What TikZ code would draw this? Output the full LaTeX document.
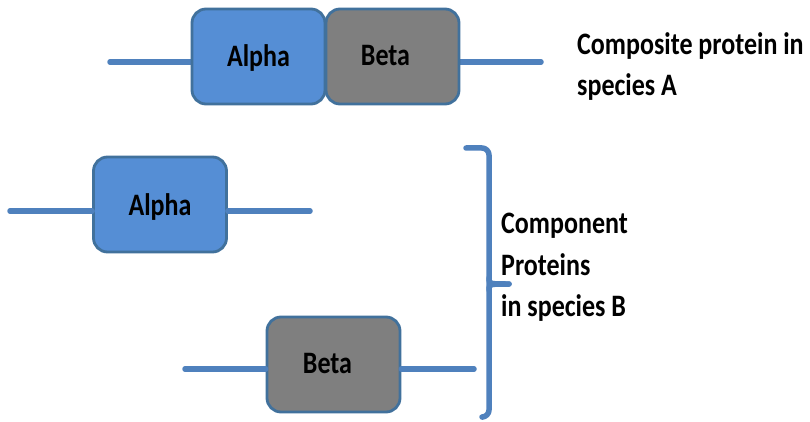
\documentclass[tikz,border=0pt]{standalone}
\usepackage{fontspec}
\setmainfont{Carlito}
\usepackage{graphicx}
\definecolor{boxblue}{HTML}{558ED5}
\definecolor{boxgray}{HTML}{7F7F7F}
\definecolor{edgeblue}{HTML}{41719C}
\definecolor{linkblue}{HTML}{4F81BD}
\newcommand{\tall}[1]{\scalebox{1}[1.2]{#1}}
\tikzset{
  protbox/.style={draw=edgeblue, line width=2.8pt, rounded corners=14pt,
    minimum width=133pt, minimum height=95pt, inner sep=0pt},
  alphabox/.style={protbox, fill=boxblue},
  betabox/.style={protbox, fill=boxgray},
  boxtext/.style={font=\fontsize{26}{26}\selectfont\bfseries, text=black, inner sep=0pt, anchor=base},
  caption/.style={font=\fontsize{26}{26}\selectfont\bfseries, text=black, inner sep=0pt, anchor=west, align=left},
  linker/.style={draw=linkblue, line width=5.5pt, line cap=round},
  bracket/.style={draw=linkblue, line width=5.5pt, line cap=round, line join=round}
}
\begin{document}
\begin{tikzpicture}[x=1pt, y=-1pt]
  \useasboundingbox[fill=white] (0,0) rectangle (810,422);

  % composite protein (species A)
  \coordinate (a0) at (110,62);
  \coordinate (a1) at (541,62);
  \draw[linker] (a0) -- (260,62);
  \draw[linker] (390,62) -- (a1);
  \node[alphabox] (alphaA) at (258.5,56.5) {};
  \node[betabox]  (betaA)  at (392.5,56.5) {};
  \node[boxtext] (alphaAt) at ([yshift=-10pt]alphaA.center) {\tall{Alpha}};
  \node[boxtext] (betaAt) at ([xshift=-7pt,yshift=-9.5pt]betaA.center) {\tall{Beta}};
  \node[caption] (capA) at (577,69) {\tall{\begin{tabular}{@{}l@{}}Composite protein in\\[8.5pt]species A\end{tabular}}};

  % separate alpha (species B)
  \coordinate (b0) at (10,211);
  \coordinate (b1) at (310,211);
  \node[alphabox] (alphaB) at (160,204.5) {};
  \draw[linker] (b0) -- (alphaB.west |- b0);
  \draw[linker] (alphaB.east |- b1) -- (b1);
  \node[boxtext] (alphaBt) at ([yshift=-11pt]alphaB.center) {\tall{Alpha}};

  % separate beta (species B)
  \coordinate (c0) at (185,369);
  \coordinate (c1) at (474,369);
  \node[betabox] (betaB) at (333.5,364.5) {};
  \draw[linker] (c0) -- (betaB.west |- c0);
  \draw[linker] (betaB.east |- c1) -- (c1);
  \node[boxtext] (betaBt) at ([xshift=-6pt,yshift=-8.5pt]betaB.center) {\tall{Beta}};

  % bracket grouping the components
  \coordinate (k0) at (466,148);
  \coordinate (k1) at (489,148);
  \coordinate (k2) at (489,417);
  \coordinate (k3) at (483,417);
  \coordinate (km) at (509,284);
  \draw[bracket, rounded corners=7pt] (k0) -- (k1) -- (k2) -- (k3);
  \draw[bracket] (489,278) .. controls (489,284) .. (km);
  \draw[bracket] (489,290) .. controls (489,284) .. (km);
  \node[caption] (capB) at (501,269) {\tall{\begin{tabular}{@{}l@{}}Component\\[8.5pt]Proteins\\[8.5pt]in species B\end{tabular}}};
\end{tikzpicture}
\end{document}
